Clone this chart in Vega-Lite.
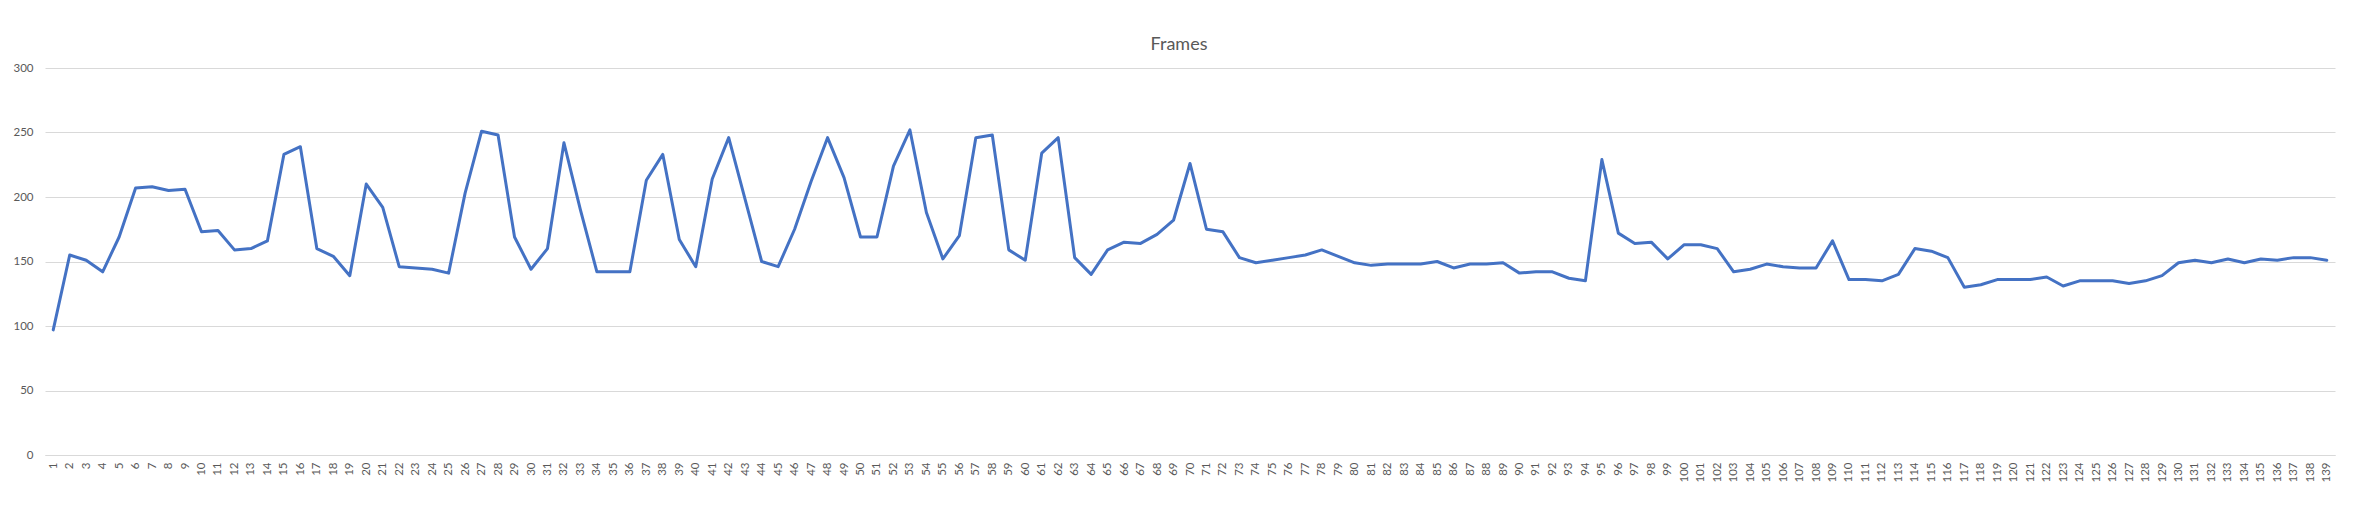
{
  "$schema": "https://vega.github.io/schema/vega-lite/v6.json",
  "autosize": {"type": "none"},
  "width": 2290,
  "height": 387,
  "padding": {"left": 45, "top": 68, "right": 30, "bottom": 52},
  "background": "white",
  "title": {"text": "Frames", "font": "Lato", "fontSize": 18, "fontWeight": "normal", "color": "#595959", "anchor": "middle", "dx": -11, "offset": 8},
  "data": {"values": [
    {"i":1,"v":97},{"i":2,"v":155},{"i":3,"v":151},{"i":4,"v":142},{"i":5,"v":169},{"i":6,"v":207},{"i":7,"v":208},{"i":8,"v":205},{"i":9,"v":206},{"i":10,"v":173},
    {"i":11,"v":174},{"i":12,"v":159},{"i":13,"v":160},{"i":14,"v":166},{"i":15,"v":233},{"i":16,"v":239},{"i":17,"v":160},{"i":18,"v":154},{"i":19,"v":139},{"i":20,"v":210},
    {"i":21,"v":192},{"i":22,"v":146},{"i":23,"v":145},{"i":24,"v":144},{"i":25,"v":141},{"i":26,"v":203},{"i":27,"v":251},{"i":28,"v":248},{"i":29,"v":169},{"i":30,"v":144},
    {"i":31,"v":160},{"i":32,"v":242},{"i":33,"v":190},{"i":34,"v":142},{"i":35,"v":142},{"i":36,"v":142},{"i":37,"v":213},{"i":38,"v":233},{"i":39,"v":167},{"i":40,"v":146},
    {"i":41,"v":214},{"i":42,"v":246},{"i":43,"v":198},{"i":44,"v":150},{"i":45,"v":146},{"i":46,"v":175},{"i":47,"v":212},{"i":48,"v":246},{"i":49,"v":215},{"i":50,"v":169},
    {"i":51,"v":169},{"i":52,"v":224},{"i":53,"v":252},{"i":54,"v":188},{"i":55,"v":152},{"i":56,"v":170},{"i":57,"v":246},{"i":58,"v":248},{"i":59,"v":159},{"i":60,"v":151},
    {"i":61,"v":234},{"i":62,"v":246},{"i":63,"v":153},{"i":64,"v":140},{"i":65,"v":159},{"i":66,"v":165},{"i":67,"v":164},{"i":68,"v":171},{"i":69,"v":182},{"i":70,"v":226},
    {"i":71,"v":175},{"i":72,"v":173},{"i":73,"v":153},{"i":74,"v":149},{"i":75,"v":151},{"i":76,"v":153},{"i":77,"v":155},{"i":78,"v":159},{"i":79,"v":154},{"i":80,"v":149},
    {"i":81,"v":147},{"i":82,"v":148},{"i":83,"v":148},{"i":84,"v":148},{"i":85,"v":150},{"i":86,"v":145},{"i":87,"v":148},{"i":88,"v":148},{"i":89,"v":149},{"i":90,"v":141},
    {"i":91,"v":142},{"i":92,"v":142},{"i":93,"v":137},{"i":94,"v":135},{"i":95,"v":229},{"i":96,"v":172},{"i":97,"v":164},{"i":98,"v":165},{"i":99,"v":152},{"i":100,"v":163},
    {"i":101,"v":163},{"i":102,"v":160},{"i":103,"v":142},{"i":104,"v":144},{"i":105,"v":148},{"i":106,"v":146},{"i":107,"v":145},{"i":108,"v":145},{"i":109,"v":166},{"i":110,"v":136},
    {"i":111,"v":136},{"i":112,"v":135},{"i":113,"v":140},{"i":114,"v":160},{"i":115,"v":158},{"i":116,"v":153},{"i":117,"v":130},{"i":118,"v":132},{"i":119,"v":136},{"i":120,"v":136},
    {"i":121,"v":136},{"i":122,"v":138},{"i":123,"v":131},{"i":124,"v":135},{"i":125,"v":135},{"i":126,"v":135},{"i":127,"v":133},{"i":128,"v":135},{"i":129,"v":139},{"i":130,"v":149},
    {"i":131,"v":151},{"i":132,"v":149},{"i":133,"v":152},{"i":134,"v":149},{"i":135,"v":152},{"i":136,"v":151},{"i":137,"v":153},{"i":138,"v":153},{"i":139,"v":151}
  ]},
  "mark": {"type": "line", "color": "#4472C4", "strokeWidth": 3, "strokeJoin": "round", "strokeCap": "round"},
  "encoding": {
    "x": {
      "field": "i", "type": "ordinal",
      "scale": {"type": "point", "padding": 0.5},
      "axis": {"title": null, "labelAngle": 270, "labelOverlap": false, "labelFont": "Lato", "labelFontSize": 11.5, "labelColor": "#595959", "ticks": false, "tickSize": 0, "labelPadding": 7, "domain": true, "domainColor": "#d9d9d9", "domainWidth": 1, "grid": false}
    },
    "y": {
      "field": "v", "type": "quantitative",
      "scale": {"domain": [0, 300], "nice": false, "zero": true},
      "axis": {"title": null, "values": [0, 50, 100, 150, 200, 250, 300], "labelFont": "Lato", "labelFontSize": 11.5, "labelColor": "#595959", "ticks": false, "tickSize": 0, "labelPadding": 12, "domain": false, "grid": true, "gridColor": "#d9d9d9", "gridWidth": 1}
    }
  },
  "config": {"view": {"stroke": null}}
}
